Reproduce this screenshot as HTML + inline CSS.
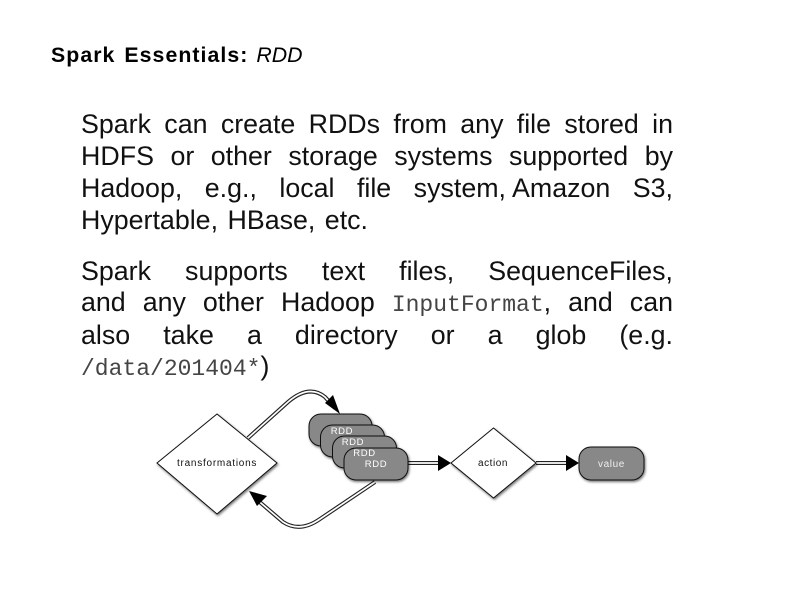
<!DOCTYPE html>
<html><head><meta charset="utf-8"><style>
html,body{margin:0;padding:0;background:#fff}
#p{position:relative;width:800px;height:600px;overflow:hidden;background:#fff;font-family:"Liberation Sans",sans-serif;color:#111}
.l{position:absolute;left:81px;width:592px;font-size:26.8px;line-height:32px;height:32px;white-space:nowrap;text-align:justify;text-align-last:justify}
.n{text-align:left;text-align-last:left;word-spacing:2px}
.m{font-family:"Liberation Mono",monospace;font-size:23px;color:#444}
svg{position:absolute;left:0;top:0}
</style></head><body><div id="p">
<div style="position:absolute;left:51px;top:43px;font-size:21.3px;line-height:24px;white-space:nowrap;color:#000"><b style="letter-spacing:1.05px;word-spacing:2px">Spark Essentials:</b> <i style="margin-left:2px">RDD</i></div>
<div class="l" style="top:108px">Spark can create RDDs from any file stored in</div>
<div class="l" style="top:140px">HDFS or other storage systems supported by</div>
<div class="l" style="top:172px">Hadoop, e.g., local file system,<span style="margin-left:6px">Amazon</span> S3,</div>
<div class="l n" style="top:204px">Hypertable, HBase, etc.</div>
<div class="l" style="top:255px">Spark supports text files, SequenceFiles,</div>
<div class="l" style="top:286px">and any other Hadoop <span class="m">InputFormat</span>, and can</div>
<div class="l" style="top:319px">also take a directory or a glob (e.g.</div>
<div class="l n" style="top:350px"><span class="m">/data/201404*</span>)</div>
<svg width="800" height="600" viewBox="0 0 800 600">
<defs><filter id="s" x="-20%" y="-20%" width="140%" height="140%"><feDropShadow dx="1" dy="1.5" stdDeviation="1.2" flood-color="#000" flood-opacity=".55"/></filter></defs>
<g fill="none">
<path d="M248 438L288 402Q309 384 325 397L335 408" stroke="#222" stroke-width="4"/>
<path d="M248 438L288 402Q309 384 325 397L335 408" stroke="#fff" stroke-width="1.700"/>
<path d="M375 482L320 519Q300 533 283 522L255 498" stroke="#222" stroke-width="4"/>
<path d="M375 482L320 519Q300 533 283 522L255 498" stroke="#fff" stroke-width="1.700"/>
<path d="M408 463H445M536 463H572" stroke="#222" stroke-width="4"/>
<path d="M408 463H445M536 463H572" stroke="#fff" stroke-width="1.700"/>
</g>
<g fill="#000">
<path d="M340 414L325 403L333 395Z"/>
<path d="M249 491L267 496L257 506Z"/>
<path d="M451 463L438 455V471Z"/>
<path d="M579 463L566 455V471Z"/>
</g>
<g filter="url(#s)" stroke="#111" stroke-width="1">
<path d="M217 414L277 463L217 514L157 463Z" fill="#fff"/>
<path d="M493.500 428L536 463L493.500 498L451 463Z" fill="#fff"/>
<rect x="309" y="414" width="63" height="32" rx="12" fill="#888"/>
<rect x="320.500" y="425" width="64" height="32" rx="12" fill="#888"/>
<rect x="332.500" y="436" width="64" height="32" rx="12" fill="#888"/>
<rect x="344" y="448" width="64" height="32" rx="12" fill="#888"/>
<rect x="579" y="447" width="65" height="33" rx="12" fill="#888"/>
</g>
<g font-family="Liberation Sans,sans-serif" font-size="10">
<text x="177" y="466" fill="#111" letter-spacing=".75">transformations</text>
<text x="478" y="466" fill="#111" letter-spacing=".55">action</text>
<g fill="#fff" font-size="9.500">
<text x="330.700" y="434" letter-spacing=".6">RDD</text>
<text x="341.700" y="445" letter-spacing=".6">RDD</text>
<text x="353.300" y="456" letter-spacing=".6">RDD</text>
<text x="364.800" y="467" letter-spacing=".6">RDD</text>
<text x="598" y="467" font-size="10" letter-spacing=".6" fill="#eee">value</text>
</g></g>
</svg>
</div></body></html>
